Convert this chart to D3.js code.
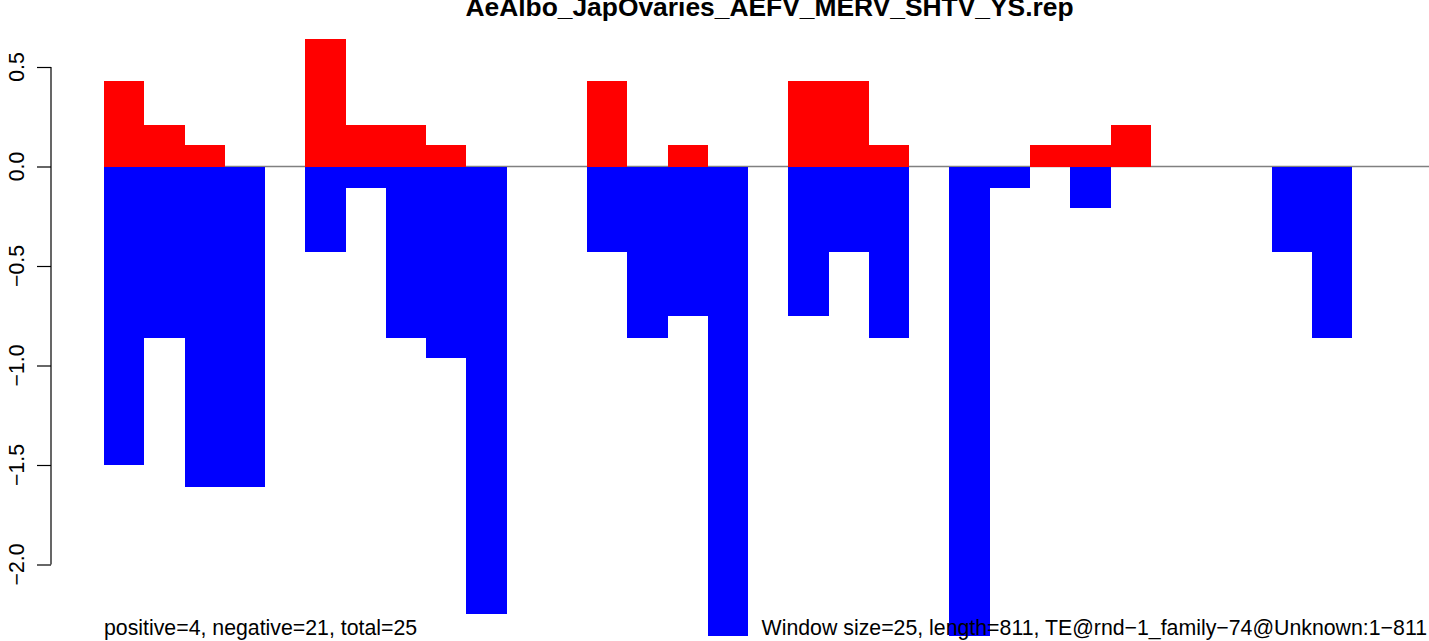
<!DOCTYPE html>
<html>
<head>
<meta charset="utf-8">
<script src="https://cdn.jsdelivr.net/npm/d3@7"></script>
<style>
  html, body { margin: 0; padding: 0; background: #fff; }
  svg { display: block; }
  text { font-family: "Liberation Sans", Arial, Helvetica, sans-serif; }
</style>
</head>
<body>
<svg id="chart" width="1429" height="641"></svg>
<script>
// ---- data ----
const title = "AeAlbo_JapOvaries_AEFV_MERV_SHTV_YS.rep";
const windows = d3.range(32);
const positiveValues = [0.43, 0.21, 0.11, 0, 0, 0.64, 0.21, 0.21, 0.11, 0, 0, 0, 0.43, 0, 0.11, 0,
                        0, 0.43, 0.43, 0.11, 0, 0, 0, 0.11, 0.11, 0.21, 0, 0, 0, 0, 0, 0];
const negativeValues = [-1.5, -0.86, -1.61, -1.61, 0, -0.43, -0.11, -0.86, -0.96, -2.25, 0, 0, -0.43, -0.86, -0.75, -2.36,
                        0, -0.75, -0.43, -0.86, 0, -2.36, -0.11, 0, -0.21, 0, 0, 0, 0, -0.43, -0.86, 0];
const yTicks = [0.5, 0.0, -0.5, -1.0, -1.5, -2.0];
const leftNote = "positive=4, negative=21, total=25";
const rightNote = "Window size=25, length=811, TE@rnd\u22121_family\u221274@Unknown:1\u2212811";

// ---- layout ----
const svg = d3.select("#chart");
const x = d3.scaleLinear().domain([0, windows.length]).range([104, 104 + 40.26 * windows.length]);
const y = d3.scaleLinear().domain([0, 0.5]).range([166.5, 67]);
const fmt = v => d3.format(".1f")(v).replace("-", "\u2212");

// zero line
svg.append("line")
  .attr("x1", x(0)).attr("x2", 1429)
  .attr("y1", y(0)).attr("y2", y(0))
  .attr("stroke", "#808080").attr("stroke-width", 1.3);

// bars
svg.append("g").selectAll("rect.pos")
  .data(windows.filter(i => positiveValues[i] > 0))
  .join("rect")
  .attr("x", i => x(i))
  .attr("width", i => x(i + 1) - x(i))
  .attr("y", i => y(positiveValues[i]))
  .attr("height", i => y(0) - y(positiveValues[i]))
  .attr("fill", "#ff0000")
  .attr("shape-rendering", "crispEdges");

svg.append("g").selectAll("rect.neg")
  .data(windows.filter(i => negativeValues[i] < 0))
  .join("rect")
  .attr("x", i => x(i))
  .attr("width", i => x(i + 1) - x(i))
  .attr("y", y(0))
  .attr("height", i => y(negativeValues[i]) - y(0))
  .attr("fill", "#0000ff")
  .attr("shape-rendering", "crispEdges");

// y axis
const axisG = svg.append("g").attr("transform", "translate(51,0)");
axisG.call(d3.axisLeft(y).tickValues(yTicks).tickSize(14).tickPadding(0).tickFormat(() => ""));
axisG.select(".domain").attr("d", `M0,${y(0.5)}V${y(-2)}`).attr("stroke", "#000").attr("stroke-width", 1.2);
axisG.selectAll(".tick line").attr("stroke", "#000").attr("stroke-width", 1.2);
svg.append("g").selectAll("text")
  .data(yTicks)
  .join("text")
  .attr("transform", d => `translate(23.5,${y(d)}) rotate(-90)`)
  .attr("text-anchor", "middle")
  .attr("font-size", 21.2)
  .attr("fill", "#000")
  .text(fmt);

// title
svg.append("text")
  .attr("x", 769.5).attr("y", 15.5)
  .attr("text-anchor", "middle")
  .attr("font-size", 26.4)
  .attr("font-weight", "bold")
  .attr("fill", "#000")
  .text(title);

// notes
svg.append("text")
  .attr("x", 104).attr("y", 635)
  .attr("font-size", 21.3)
  .attr("fill", "#000")
  .text(leftNote);
svg.append("text")
  .attr("x", 1427).attr("y", 635)
  .attr("text-anchor", "end")
  .attr("font-size", 21.3)
  .attr("fill", "#000")
  .text(rightNote);
</script>
</body>
</html>
